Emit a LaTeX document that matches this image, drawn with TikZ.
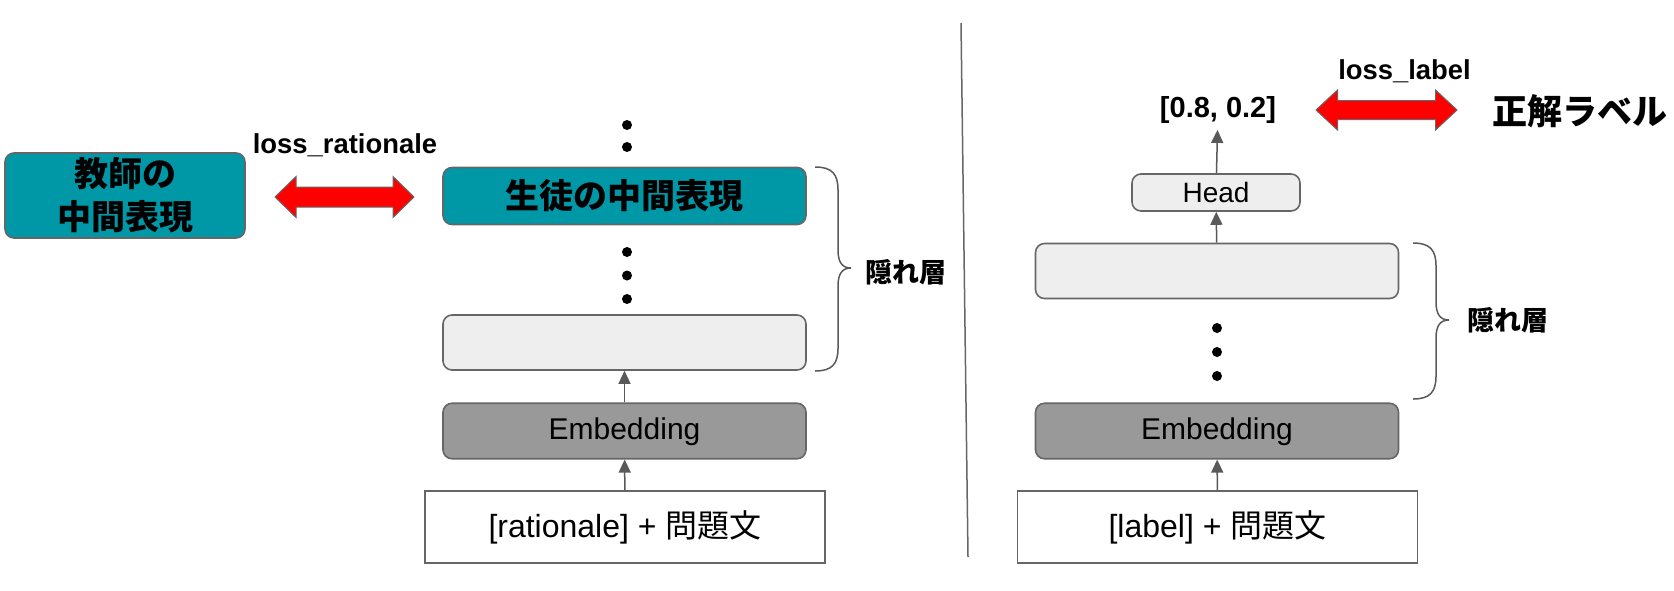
\documentclass[tikz,border=0pt]{standalone}
\usepackage{fontspec}
\setmainfont{Liberation Sans}
\newfontfamily\jp{Noto Sans CJK JP}
\usetikzlibrary{arrows.meta}
\definecolor{tealbg}{HTML}{0097A7}
\definecolor{edgegray}{HTML}{666666}
\definecolor{lightbg}{HTML}{EEEEEE}
\definecolor{midbg}{HTML}{999999}
\definecolor{arrowgray}{HTML}{595959}
\begin{document}
\begin{tikzpicture}[x=0.5pt,y=-0.5pt,
  box/.style={draw=edgegray, line width=0.8pt, rounded corners=4.5pt, inner sep=0pt},
  tealbox/.style={box, fill=tealbg, font=\jp\bfseries\fontsize{17}{21.5}\selectfont, align=center},
  hidbox/.style={box, fill=lightbg, minimum width=181.5pt, minimum height=27.5pt},
  embbox/.style={box, fill=midbg, minimum width=181.5pt, minimum height=27.75pt, font=\fontsize{15}{18}\selectfont, text height=0.89em, text depth=0pt},
  inbox/.style={draw=edgegray, line width=0.7pt, fill=white, minimum width=200pt, minimum height=36pt, inner sep=0pt, font=\fontsize{16}{19}\selectfont},
  upconn/.style={draw=arrowgray, line width=0.75pt, -{Triangle[length=6.5pt,width=6pt]}},
  dotnode/.style={circle, fill=black, inner sep=0pt, minimum size=5pt},
  bracepath/.style={draw=arrowgray, line width=0.75pt},
  redarrow/.style={fill=red, draw=edgegray, line width=0.5pt, line join=miter},
  losslbl/.style={font=\bfseries\fontsize{13.7}{16}\selectfont},
  hidlbl/.style={font=\jp\bfseries\fontsize{13.5}{16}\selectfont},
]
\useasboundingbox (0,0) rectangle (1674,590);

% ---------- left side ----------
\node[tealbox, minimum width=120pt, minimum height=42.5pt] (teacher) at (125,195.5) {教師の\\中間表現};
\node[tealbox, minimum width=181.5pt, minimum height=28.5pt] (student) at (624.5,196) {生徒の中間表現};
\node[hidbox] (hidL) at (624.5,342.5) {};
\node[embbox] (embL) at (624.5,431) {Embedding};
\node[inbox] (inL) at (625,527) {[rationale] + {\jp 問題文}};

\node[dotnode] (dl1) at (627,125) {};
\node[dotnode] (dl2) at (627,147) {};
\node[dotnode] (dl3) at (627,252) {};
\node[dotnode] (dl4) at (627,275.5) {};
\node[dotnode] (dl5) at (627,299) {};

\draw[upconn] (inL) -- (embL);
\draw[upconn] (embL) -- (hidL);

\node[losslbl] (lossR) at (345,145) {loss\_rationale};
\coordinate (laL) at (275,197);
\draw[redarrow] (laL) -- ++(21,-20.5) -- ++(0,10.5) -- ++(97,0) -- ++(0,-10.5) -- ++(21,20.5)
  -- ++(-21,20.5) -- ++(0,-10.5) -- ++(-97,0) -- ++(0,10.5) -- cycle;

\draw[bracepath] (815,167) .. controls (832,167) and (838,174) .. (838,190) -- (838,250)
  .. controls (838,262) and (842,268) .. (851,268)
  .. controls (842,268) and (838,274) .. (838,286) -- (838,348)
  .. controls (838,364) and (832,371) .. (815,371);
\node[hidlbl] (hlL) at (906,272) {隠れ層};

% ---------- divider ----------
\draw[draw=edgegray, line width=0.75pt] (961,23) -- (968,557);

% ---------- right side ----------
\node[box, fill=lightbg, minimum width=84pt, minimum height=18.5pt, font=\fontsize{14}{17}\selectfont] (head) at (1216,192.5) {Head};
\node[hidbox] (hidR) at (1217,271) {};
\node[embbox] (embR) at (1217,431) {Embedding};
\node[inbox] (inR) at (1217.5,527) {[label] + {\jp 問題文}};

\node[dotnode] (dr1) at (1217,328) {};
\node[dotnode] (dr2) at (1217,352) {};
\node[dotnode] (dr3) at (1217,376) {};

\node[font=\bfseries\fontsize{14.5}{17}\selectfont, inner sep=3pt] (outv) at (1218,110) {[0.8, 0.2]};

\draw[upconn] (inR) -- (embR);
\draw[upconn] (hidR) -- (head);
\draw[upconn] (head) -- (outv);

\node[losslbl] (lossL) at (1404.5,71) {loss\_label};
\coordinate (laR) at (1316,110);
\draw[redarrow] (laR) -- ++(21.5,-20) -- ++(0,10.5) -- ++(98,0) -- ++(0,-10.5) -- ++(21.5,20)
  -- ++(-21.5,20) -- ++(0,-10.5) -- ++(-98,0) -- ++(0,10.5) -- cycle;
\node[font=\jp\bfseries\fontsize{17.5}{20}\selectfont] (gt) at (1579.5,111) {正解ラベル};

\draw[bracepath] (1413,243) .. controls (1430,243) and (1436,250) .. (1436,266) -- (1436,302)
  .. controls (1436,314) and (1440,320) .. (1449,320)
  .. controls (1440,320) and (1436,326) .. (1436,338) -- (1436,376)
  .. controls (1436,392) and (1430,399) .. (1413,399);
\node[hidlbl] (hlR) at (1507.5,320) {隠れ層};
\end{tikzpicture}
\end{document}
